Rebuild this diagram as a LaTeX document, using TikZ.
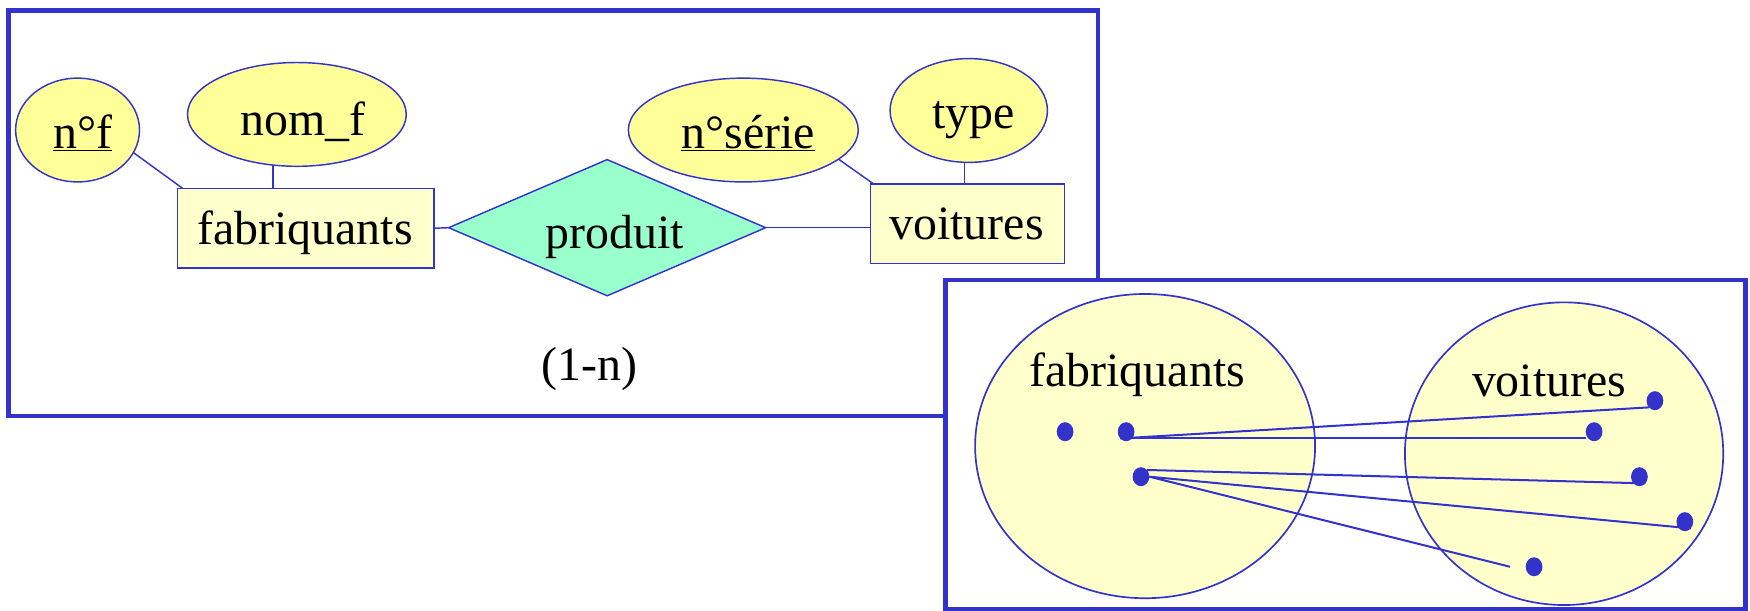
\documentclass[tikz,border=0pt]{standalone}
\usepackage{fontspec}
\setmainfont{Liberation Serif}
\usetikzlibrary{shapes.geometric,backgrounds}
\definecolor{frameblue}{RGB}{51,51,204}
\definecolor{attrfill}{RGB}{255,255,153}
\definecolor{entfill}{RGB}{255,255,204}
\definecolor{relfill}{RGB}{153,255,204}
\begin{document}
\begin{tikzpicture}[x=1pt,y=-1pt,
  every node/.style={inner sep=0pt, outer sep=0pt},
  lbl/.style={anchor=base, font=\fontsize{42.9}{50}\selectfont},
  frame/.style={draw=frameblue, line width=4pt},
  attr/.style={ellipse, draw=frameblue, line width=1.3pt, fill=attrfill, minimum height=93pt},
  entity/.style={rectangle, draw=frameblue, line width=1.3pt, fill=entfill, minimum height=71pt},
  rel/.style={diamond, draw=frameblue, line width=1.3pt, fill=relfill},
  link/.style={draw=frameblue, line width=1.3pt},
  setbox/.style={ellipse, draw=frameblue, line width=1.5pt, fill=entfill},
  elem/.style={ellipse, fill=frameblue, minimum width=15pt, minimum height=17pt},
  pair/.style={draw=frameblue, line width=1.8pt}]
\useasboundingbox (0,0) rectangle (1568,547);

% ---- entity-relationship schema ----
\draw[frame] (7.6,9.3) rectangle (983.8,372.8);

\node[attr, minimum width=111pt] (nf) at (69.5,116.5) {};
\node[attr, minimum width=196pt] (nomf) at (266,102.5) {};
\node[attr, minimum width=206pt] (nse) at (666,116.5) {};
\node[attr, minimum width=141pt] (typ) at (868,99) {};

\node[entity, minimum width=230pt] (fab) at (274,204.5) {};
\node[entity, minimum width=174pt] (voi) at (867,200.5) {};
\node[rel, minimum width=284pt, minimum height=122pt] (rel) at (544,204) {};

\coordinate (nomf-foot) at ([xshift=85.6pt]fab.north west);
\coordinate (typ-foot) at ([xshift=84pt]voi.north west);

\begin{scope}[on background layer]
  \draw[link] (nf.-22) -- ([xshift=5pt]fab.north west);
  \draw[link] (nomf-foot) -- (nomf-foot |- nomf.center);
  \draw[link] (nse.-17) -- ([xshift=3pt]voi.north west);
  \draw[link] (typ-foot) -- (typ-foot |- typ.center);
  \draw[link] (fab.east) -- (rel.west);
  \draw[link] (rel.east) -- (rel.east -| voi.west);
\end{scope}

\node[lbl] (t-nf) at (74,133) {\underline{n°f}};
\node[lbl] (t-nomf) at (271.7,121) {nom\_f};
\node[lbl] (t-nse) at (670.4,133) {\underline{n°série}};
\node[lbl] (t-typ) at (872,115) {type};
\node[lbl] (t-fab) at (273.3,219) {fabriquants};
\node[lbl] (t-rel) at (551,222.5) {produit};
\node[lbl] (t-voi) at (866,215) {voitures};
\node[lbl] (t-card) at (528,340.5) {(1-n)};

% ---- sets of occurrences ----
\draw[frame, fill=white] (847,251) rectangle (1564,546);

\node[setbox, minimum width=304.6pt, minimum height=272.6pt] (setf) at (1026,399.7) {};
\node[setbox, minimum width=285.2pt, minimum height=271.2pt] (setv) at (1401.4,406.5) {};

\node[lbl] (t-setf) at (1019,346.5) {fabriquants};
\node[lbl] (t-setv) at (1388,355) {voitures};

\node[elem] (a1) at (954.3,386.8) {};
\node[elem] (a2) at (1009,386.8) {};
\node[elem] (a3) at (1022.3,427.1) {};
\node[elem] (b1) at (1482.8,359) {};
\node[elem] (b2) at (1428.3,386.8) {};
\node[elem] (b3) at (1468.9,427.1) {};
\node[elem] (b4) at (1509.6,467.4) {};
\node[elem] (b5) at (1374.5,507.8) {};

\draw[pair] (a2.south west) -- (b1.south west);
\draw[pair] (a2.south west) -- (a2.south west -| b2.west);
\draw[pair] (a3.north east) -- (b3.south east);
\draw[pair] (a3.east) -- (b4.south east);
\draw[pair] (a3.east) -- ([xshift=-14pt]b5.west);
\end{tikzpicture}
\end{document}
